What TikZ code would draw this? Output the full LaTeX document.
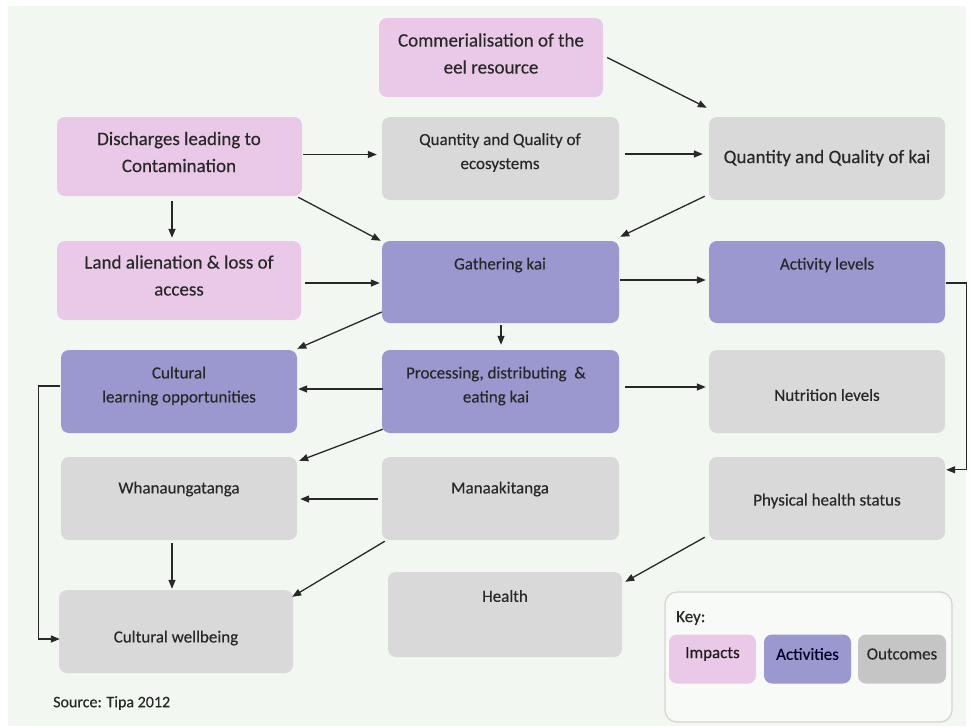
\documentclass[tikz,border=0pt]{standalone}
\usepackage{fontspec}
\setmainfont{Carlito}
\newfontfamily\boxfont{Carlito}[FakeBold=0.35]
\usetikzlibrary{calc,arrows.meta}
\definecolor{pagebg}{HTML}{F3F7F2}
\definecolor{impactc}{HTML}{E9C9E7}
\definecolor{activityc}{HTML}{9A98CE}
\definecolor{outcomec}{HTML}{D9D9D9}
\definecolor{outkeyc}{HTML}{C5C5C5}
\definecolor{inkc}{HTML}{282828}
\definecolor{keyline}{HTML}{D2D4D0}
\tikzset{
  box/.style={rounded corners=8pt, inner sep=0pt, draw=none},
  impact/.style={box, fill=impactc},
  activity/.style={box, fill=activityc},
  outcome/.style={box, fill=outcomec},
  txt/.style={text=inkc, align=center, inner sep=0pt},
  big/.style={font=\boxfont\fontsize{19}{27}\selectfont},
  mid/.style={font=\boxfont\fontsize{17}{24}\selectfont},
  arr/.style={draw=inkc, line width=1.3pt, -{Triangle[length=9pt,width=7pt]}},
}
\newcommand{\boxat}[5]{\node[#1, minimum width=#4pt, minimum height=#5pt] (#2) at (#3) {};}
\begin{document}
\begin{tikzpicture}[x=1pt, y=-1pt]
  \useasboundingbox (0,0) rectangle (974,726);
  \fill[white] (0,0) rectangle (974,726);
  \fill[pagebg] (8,6) rectangle (966,726);

  % boxes
  \boxat{impact}{comm}{491,57.5}{224}{79}
  \boxat{impact}{disch}{179.5,156.5}{245}{79}
  \boxat{outcome}{eco}{500.5,158.5}{237}{83}
  \boxat{outcome}{kai}{827,158.5}{236}{83}
  \boxat{impact}{land}{179,280.5}{244}{79}
  \boxat{activity}{gath}{500.5,282}{237}{82}
  \boxat{activity}{act}{827,282}{236}{82}
  \boxat{activity}{cult}{179,391.5}{236}{83}
  \boxat{activity}{proc}{500.5,391.5}{237}{83}
  \boxat{outcome}{nutr}{827,391.5}{236}{83}
  \boxat{outcome}{whan}{179,498.5}{236}{83}
  \boxat{outcome}{mana}{500.5,498.5}{237}{83}
  \boxat{outcome}{phys}{827,498.5}{236}{83}
  \boxat{outcome}{cwell}{176,631.5}{234}{83}
  \boxat{outcome}{health}{505,614.5}{234}{85}

  % box texts
  \node[txt, big] (tcomm) at (491,53.5) {Commerialisation of the\\eel resource};
  \node[txt, big] (tdisch) at (179,152) {Discharges leading to\\Contamination};
  \node[txt, mid] (teco) at (500,152.5) {Quantity and Quality of\\ecosystems};
  \node[txt, big] (tkai) at (827,158) {Quantity and Quality of kai};
  \node[txt, big] (tland) at (179,275.5) {Land alienation \& loss of\\access};
  \node[txt, mid] (tgath) at (500,265) {Gathering kai};
  \node[txt, mid] (tact) at (827,265) {Activity levels};
  \node[txt, mid] (tcult) at (179,386) {Cultural\\learning opportunities};
  \node[txt, mid] (tproc) at (496,386) {Processing, distributing\ \ \&\\eating kai};
  \node[txt, mid] (tnutr) at (827,395) {Nutrition levels};
  \node[txt, mid] (twhan) at (179,489) {Whanaungatanga};
  \node[txt, mid] (tmana) at (500,489) {Manaakitanga};
  \node[txt, mid] (tphys) at (827,501) {Physical health status};
  \node[txt, mid] (tcwell) at (176,638) {Cultural wellbeing};
  \node[txt, mid] (thealth) at (505,596) {Health};

  % key
  \node[draw=keyline, line width=1.2pt, fill=pagebg!60!white, rounded corners=12pt,
        minimum width=287pt, minimum height=130pt, inner sep=0pt] (key) at (808.5,657) {};
  \node[txt, mid, anchor=west] (tkey) at (676,618) {Key:};
  \node[box, fill=impactc, minimum width=87pt, minimum height=49pt] (kimp) at (712.5,659) {};
  \node[box, fill=activityc, minimum width=87pt, minimum height=49pt] (kact) at (807.5,659) {};
  \node[box, fill=outkeyc, minimum width=88pt, minimum height=49pt] (kout) at (902,659) {};
  \node[txt, mid, text=inkc!80!impactc!40!black] (timp) at (712.5,654) {Impacts};
  \node[txt, mid, text=black!60!blue!40!black] (tactk) at (807.5,654) {Activities};
  \node[txt, mid] (toutk) at (902,654) {Outcomes};

  % source line
  \node[txt, font=\boxfont\fontsize{16}{20}\selectfont, anchor=west] (src) at (53,703) {Source: Tipa 2012};

  % connectors
  \draw[arr] ($(disch.east)+(1,-2)$) -- ($(eco.west)+(-5,-4)$);
  \draw[arr] ($(disch.south east)+(-4,1)$) -- ($(gath.north west)+(-1,0)$);
  \draw[arr] ($(comm.east)+(4,0)$) -- ($(kai.north west)+(-2,-9)$);
  \draw[arr] ($(eco.east)+(6,-4.5)$) -- ($(kai.west)+(-6,-4.5)$);
  \draw[arr] ($(kai.south west)+(-4,-4)$) -- ($(gath.north east)+(1,-4)$);
  \draw[arr] ($(disch.south)+(-7.5,5)$) -- ($(land.north)+(-7,-3)$);
  \draw[arr] ($(land.east)+(4,2.5)$) -- ($(gath.west)+(-2,1)$);
  \draw[arr] ($(gath.west)+(0,30)$) -- ($(cult.north east)+(0,-1)$);
  \draw[arr] ($(gath.south)+(0.5,2)$) -- ($(proc.north)+(0.5,-5)$);
  \draw[arr] ($(gath.east)+(1,-2)$) -- ($(act.west)+(-3,-2)$);
  \draw[arr] ($(act.east)+(1,1)$) -- ++(20,0) |- ($(phys.north east)+(1,13)$);
  \draw[arr] ($(proc.west)+(1,-2.5)$) -- ($(cult.east)+(1,-2.5)$);
  \draw[arr] ($(proc.east)+(6,-4.5)$) -- ($(nutr.west)+(-3,-4.5)$);
  \draw[arr] ($(proc.south west)+(1,-4)$) -- ($(whan.north east)+(2,4)$);
  \draw[arr] ($(mana.west)+(-4,0.5)$) -- ($(whan.east)+(3,0.5)$);
  \draw[arr] ($(whan.south)+(-7,3)$) -- ($(cwell.north)+(-4,-1)$);
  \draw[arr] ($(mana.south west)+(3,1)$) -- ($(cwell.north east)+(-1,7)$);
  \draw[arr] ($(cult.west)+(-1,-5.5)$) -- ++(-21,0) |- ($(cwell.west)+(1,7.5)$);
  \draw[arr] ($(phys.south west)+(-4,-3)$) -- ($(health.north east)+(3,10)$);
\end{tikzpicture}
\end{document}
